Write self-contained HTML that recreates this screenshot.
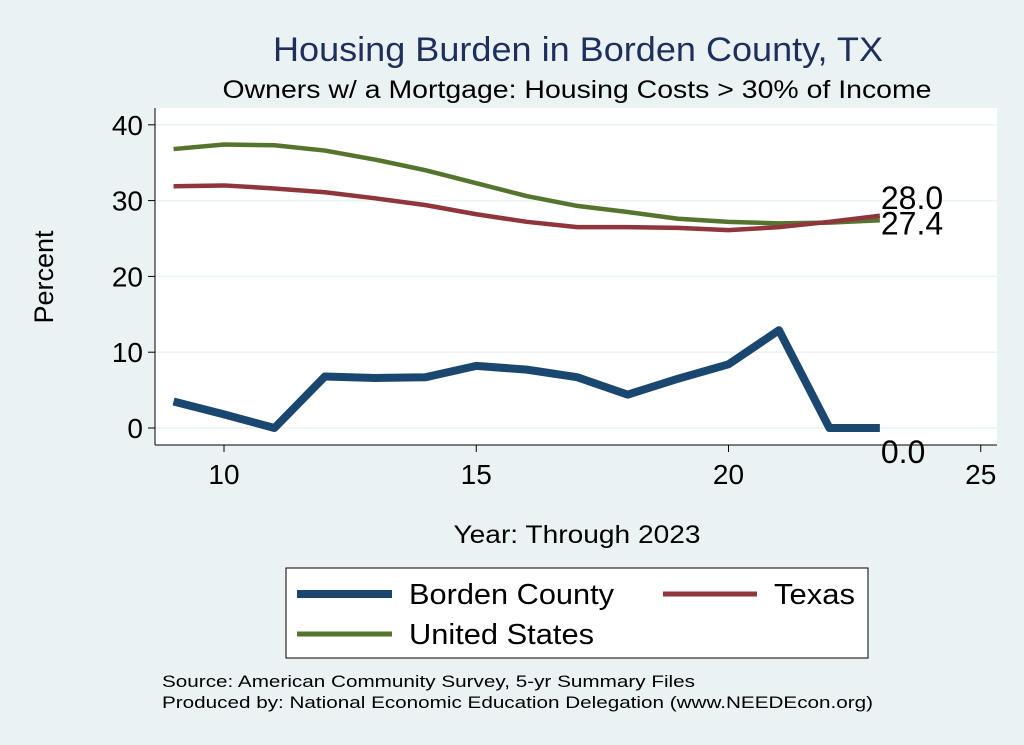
<!DOCTYPE html>
<html><head><meta charset="utf-8"><style>
body{margin:0;background:#eaf2f3;}
svg{display:block;font-family:"Liberation Sans",sans-serif;}
</style></head><body>
<svg width="1024" height="745" viewBox="0 0 1024 745">
<rect x="0" y="0" width="1024" height="745" fill="#eaf2f3"/>
<rect x="155" y="108" width="842" height="337" fill="#ffffff"/>
<text x="578" y="61" font-size="34" fill="#1e2f5e" text-anchor="middle" textLength="610" lengthAdjust="spacingAndGlyphs">Housing Burden in Borden County, TX</text>
<text x="577" y="98" font-size="25" fill="#000" text-anchor="middle" textLength="709" lengthAdjust="spacingAndGlyphs">Owners w/ a Mortgage: Housing Costs &gt; 30% of Income</text>
<g id="grid"></g>
<g id="axes"></g>
<g id="series"></g>
<text x="53" y="277" font-size="27" text-anchor="middle" transform="rotate(-90 53 277)">Percent</text>
<text x="577" y="543" font-size="25" text-anchor="middle" textLength="247" lengthAdjust="spacingAndGlyphs">Year: Through 2023</text>
<g>
<rect x="286" y="568" width="582" height="90" fill="#fff" stroke="#000" stroke-width="1"/>
<g><line x1="297" y1="594" x2="392" y2="594" stroke="#1a476f" stroke-width="8"/><text x="409" y="604" font-size="29" textLength="205" lengthAdjust="spacingAndGlyphs">Borden County</text></g>
<g><line x1="663" y1="594" x2="757" y2="594" stroke="#90353b" stroke-width="5"/><text x="774" y="604" font-size="29" textLength="81" lengthAdjust="spacingAndGlyphs">Texas</text></g>
<g><line x1="297" y1="634" x2="392" y2="634" stroke="#55752f" stroke-width="5"/><text x="409" y="644" font-size="29" textLength="185" lengthAdjust="spacingAndGlyphs">United States</text></g>
</g>
<text x="162" y="687" font-size="17" textLength="533" lengthAdjust="spacingAndGlyphs">Source: American Community Survey, 5-yr Summary Files</text>
<text x="162" y="708" font-size="17" textLength="711" lengthAdjust="spacingAndGlyphs">Produced by: National Economic Education Delegation (www.NEEDEcon.org)</text>
</svg>
<script>
const years=[9,10,11,12,13,14,15,16,17,18,19,20,21,22,23];
const borden=[3.5,1.8,0,6.8,6.6,6.7,8.2,7.7,6.7,4.4,6.5,8.4,12.9,0,0];
const texas=[31.9,32.0,31.6,31.1,30.3,29.4,28.2,27.2,26.5,26.5,26.4,26.1,26.5,27.2,28.0];
const us=[36.8,37.4,37.3,36.6,35.4,34.0,32.3,30.6,29.3,28.5,27.6,27.2,27.0,27.1,27.4];
const xTicks=[10,15,20,25];
const yTicks=[0,10,20,30,40];
const NS="http://www.w3.org/2000/svg";
function X(v){return 224+(v-10)*50.45;}
function Y(v){return 428-v*7.58;}
function mk(tag,attrs,parent){const e=document.createElementNS(NS,tag);for(const k in attrs)e.setAttribute(k,attrs[k]);parent.appendChild(e);return e;}
const grid=document.getElementById('grid'),axes=document.getElementById('axes'),ser=document.getElementById('series');
yTicks.forEach(t=>{
 const g=mk('line',{x1:155,x2:997,y1:Y(t),y2:Y(t),stroke:'#eaf2f3','stroke-width':1.5},grid);
 
 
 mk('line',{x1:148,x2:155,y1:Y(t),y2:Y(t),stroke:'#000','stroke-width':1},axes);
 const tx=mk('text',{x:143,y:Y(t)+10,'font-size':28,'text-anchor':'end'},axes);tx.textContent=t;
 
 
});
xTicks.forEach(t=>{
 mk('line',{x1:X(t),x2:X(t),y1:445,y2:452,stroke:'#000','stroke-width':1},axes);
 const tx=mk('text',{x:X(t),y:484,'font-size':28,'text-anchor':'middle'},axes);tx.textContent=t;
 
 
});
mk('line',{x1:155,x2:155,y1:108,y2:445,stroke:'#000','stroke-width':1},axes);
mk('line',{x1:155,x2:997,y1:445,y2:445,stroke:'#000','stroke-width':1},axes);
function line(vals,color,w,name){
 const p=mk('polyline',{points:vals.map((v,i)=>X(years[i])+','+Y(v)).join(' '),fill:'none',stroke:color,'stroke-width':w,'stroke-linejoin':'round'},ser);
 
 
}
line(us,'#55752f',4.5,'line-united-states');
line(texas,'#90353b',4.5,'line-texas');
line(borden,'#1a476f',8,'line-borden-county');
function lab(vals,dy,name){
 const n=vals.length-1;
 const t=mk('text',{x:X(years[n])+1,y:Y(vals[n])+dy,'font-size':32},ser);t.textContent=vals[n].toFixed(1);
 
 
}
lab(texas,-7,'label-texas-last');
lab(us,14,'label-us-last');
lab(borden,35,'label-borden-last');
</script>
</body></html>
